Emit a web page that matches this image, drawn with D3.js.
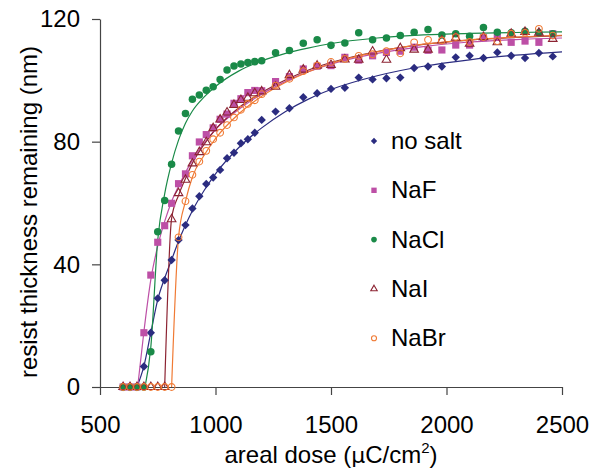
<!DOCTYPE html>
<html>
<head>
  <style type="text/css">
    body { margin: 0; background: #fff; }
    svg { display: block; font-family: "Liberation Sans", Arial, sans-serif; }
  </style>
</head>
<body>
<div id="chart"></div>
<script src="https://d3js.org/d3.v7.min.js"></script>
<script type="text/javascript">
var width = 600, height = 473;

// dose steps (uC/cm2)
var doses = [600, 630, 660, 690, 720, 750, 780, 810, 840, 870, 900, 930, 960, 990, 1020, 1050, 1080, 1110, 1140, 1170, 1200,
  1260, 1320, 1380, 1440, 1500, 1560, 1620, 1680, 1740, 1800, 1860, 1920, 1980, 2040, 2100, 2160, 2220, 2280, 2340, 2400, 2460];

var noSalt = [0, 0, 0, 6.7, 17.7, 28.9, 34.8, 41.4, 47.9, 52.8, 58.2, 62.2, 66.2, 68.3, 70.8, 74.6, 76.4, 79.5, 80.8, 82.9, 87.1,
  89.8, 90.9, 94.5, 95.8, 97.2, 97.6, 100.9, 100.3, 100.7, 100.9, 104, 104.5, 104.5, 107.5, 108, 107.3, 109.1, 108, 107.3, 108.9, 107.8];
var naF = [0, 0, 0, 17.7, 36.5, 47.2, 52.6, 59.9, 66.3, 69.5, 75.4, 79.9, 82.3, 84.5, 87.3, 89, 92.5, 94, 96, 96.7, 96.6,
  99.6, 101.2, 103.7, 104.6, 104.8, 107.5, 106.6, 108, 109.1, 109.5, 110.8, 109.8, 109.9, 111.5, 111.5, 113.9, 114.1, 112.4, 112.8, 112.4, 115.2];
var naCl = [0, 0, 0, 0, 11.5, 50.6, 60.8, 72.6, 83.5, 89.2, 93.8, 95.2, 96.8, 97.9, 100.3, 103.4, 104.7, 105.3, 105.8, 106.1, 106.4,
  109, 109.7, 112.1, 113.2, 111.4, 112.2, 115.5, 113.2, 113.8, 114.6, 115.7, 116.6, 114.8, 115.2, 114.4, 117.2, 115.7, 115.5, 116, 115.5, 115.2];
var naI = [0, 0, 0, 0, 0, 0, 0, 54.7, 63.2, 67.6, 72.9, 76.6, 79.8, 84.4, 87.2, 89.5, 92, 93.6, 94.3, 95.8, 96.4,
  97.9, 101.7, 103.5, 104.8, 105, 106.8, 106.7, 109.4, 106.7, 110.5, 110, 110, 113, 113.9, 111.9, 114.1, 112.4, 115.2, 115.8, 115.5, 113.5];
var naBr = [0, 0, 0, 0, 0, 0, 0, 0, 48.8, 60.6, 69.2, 73.5, 77, 80.8, 82.9, 85.4, 87.9, 90.4, 92.3, 93.5, 95.5,
  98.3, 100.5, 103, 104.8, 106, 107, 108, 108.5, 109.5, 108.8, 112.4, 113.2, 113, 114.1, 112.5, 114.1, 112.8, 115.2, 115.5, 116.8, 114.6];

// fitted curves as [dose, thickness]
var fitNoSalt = [[660, 0], [690, 6.8], [720, 17.7], [750, 28.5], [780, 35.5], [810, 41.5], [840, 47.5], [870, 52.8], [900, 57.5],
  [950, 64], [1000, 69.5], [1100, 78], [1200, 84.5], [1300, 89.7], [1400, 93.8], [1500, 97], [1700, 101.5], [1900, 104.6],
  [2100, 106.7], [2300, 108.2], [2500, 109.3]];
var fitNaF = [[663, 0], [690, 18], [720, 35], [750, 46], [780, 54], [810, 60.5], [850, 67], [900, 74], [950, 79.5], [1000, 84],
  [1100, 90.5], [1200, 95.5], [1300, 99.5], [1400, 102.8], [1500, 105.3], [1700, 108.8], [1900, 111], [2100, 112.5],
  [2300, 113.3], [2500, 113.8]];
var fitNaCl = [[695, 0], [720, 13], [750, 48], [780, 63], [810, 73], [840, 80.5], [870, 86], [900, 90], [950, 94.5], [1000, 98],
  [1100, 103], [1200, 106.3], [1300, 108.7], [1400, 110.5], [1500, 112], [1700, 113.8], [1900, 114.8], [2100, 115.3],
  [2300, 115.6], [2500, 115.8]];
var fitNaI = [[780, 0], [810, 55], [840, 62.5], [870, 68], [900, 73], [950, 79], [1000, 84], [1100, 91], [1200, 96],
  [1300, 100], [1400, 103.3], [1500, 105.8], [1700, 109.4], [1900, 111.7], [2100, 113.1], [2300, 114], [2500, 114.6]];
var fitNaBr = [[810, 0], [840, 48.8], [870, 60.5], [900, 68.5], [950, 75.5], [1000, 81], [1100, 89], [1200, 94.8],
  [1300, 99.2], [1400, 102.7], [1500, 105.5], [1700, 109.3], [1900, 111.8], [2100, 113.2], [2300, 114.1], [2500, 114.7]];

var xTicks = [500, 1000, 1500, 2000, 2500];
var yTicks = [0, 40, 80, 120];

var series = [
  {name: "no salt", values: noSalt, fit: fitNoSalt, color: "#2b2c80", shape: "diamond"},
  {name: "NaF", values: naF, fit: fitNaF, color: "#bd4fa6", shape: "square"},
  {name: "NaCl", values: naCl, fit: fitNaCl, color: "#1a8a48", shape: "circle"},
  {name: "NaI", values: naI, fit: fitNaI, color: "#8c2332", shape: "triangle"},
  {name: "NaBr", values: naBr, fit: fitNaBr, color: "#f07a34", shape: "ring"}
];

var x = d3.scaleLinear().domain([500, 2500]).range([100, 562]);
var y = d3.scaleLinear().domain([0, 120]).range([387, 19]);

var svg = d3.select("#chart").append("svg")
  .attr("width", width)
  .attr("height", height);

// axes
var xAxis = svg.append("g")
  .attr("transform", "translate(0," + y(0) + ")")
  .call(d3.axisBottom(x).tickValues(xTicks).tickFormat(d3.format("d"))
    .tickSize(8).tickSizeOuter(0).tickPadding(22));
var yAxis = svg.append("g")
  .attr("transform", "translate(" + x(500) + ",0)")
  .call(d3.axisLeft(y).tickValues(yTicks).tickFormat(d3.format("d"))
    .tickSize(8).tickSizeOuter(0).tickPadding(12));

[xAxis, yAxis].forEach(function(ax) {
  ax.selectAll("path, line").attr("stroke", "#444").attr("stroke-width", 1.2);
  ax.selectAll("text").attr("fill", "#000").style("font-size", "24px")
    .style("font-family", "'Liberation Sans', Arial, sans-serif");
});
xAxis.selectAll("text").attr("dy", null).attr("y", 46);

// fit lines
var line = d3.line()
  .x(d => x(d[0]))
  .y(d => y(d[1]))
  .curve(d3.curveMonotoneX);

svg.append("g").selectAll("path")
  .data(series)
  .join("path")
  .attr("d", d => line(d.fit))
  .attr("fill", "none")
  .attr("stroke", d => d.color)
  .attr("stroke-width", 1.2);

function drawMarker(sel, shape, color, s) {
  if (shape === "diamond") {
    sel.append("path")
      .attr("d", d3.symbol().type(d3.symbolSquare).size(s * s * 0.55)())
      .attr("transform", "rotate(45)")
      .attr("fill", color);
  } else if (shape === "square") {
    sel.append("path").attr("d", d3.symbol().type(d3.symbolSquare).size(s * s * 0.8)()).attr("fill", color);
  } else if (shape === "circle") {
    sel.append("circle").attr("r", s * 0.47).attr("fill", color);
  } else if (shape === "triangle") {
    sel.append("path").attr("d", d3.symbol().type(d3.symbolTriangle).size(s * s * 0.5)())
      .attr("fill", "none").attr("stroke", color).attr("stroke-width", 1.1);
  } else {
    sel.append("circle").attr("r", s * 0.42).attr("fill", "none").attr("stroke", color).attr("stroke-width", 1.1);
  }
}

// data points
series.forEach(function(s) {
  var g = svg.append("g");
  s.values.forEach(function(v, i) {
    var m = g.append("g").attr("transform", "translate(" + x(doses[i]) + "," + y(v) + ")");
    drawMarker(m, s.shape, s.color, 8);
  });
});

// legend
var legend = svg.append("g");
series.forEach(function(s, i) {
  var row = legend.append("g").attr("transform", "translate(374," + (141 + i * 49.3) + ")");
  drawMarker(row.append("g"), s.shape, s.color, 6);
  row.append("text")
    .attr("x", 17)
    .attr("y", 8)
    .style("font-size", "24px")
    .text(s.name);
});

// axis titles
var xt = svg.append("text")
  .attr("x", 331)
  .attr("y", 463)
  .attr("text-anchor", "middle")
  .style("font-size", "24px");
xt.append("tspan").text("areal dose (");
xt.append("tspan").style("font-family", "'DejaVu Sans', sans-serif").style("font-size", "22px").text("\u03bc");
xt.append("tspan").text("C/cm");
xt.append("tspan").attr("dy", -10).style("font-size", "15px").text("2");
xt.append("tspan").attr("dy", 10).text(")");

svg.append("text")
  .attr("transform", "translate(37,212) rotate(-90)")
  .attr("text-anchor", "middle")
  .style("font-size", "24px")
  .text("resist thickness remaining (nm)");
</script>
</body>
</html>
